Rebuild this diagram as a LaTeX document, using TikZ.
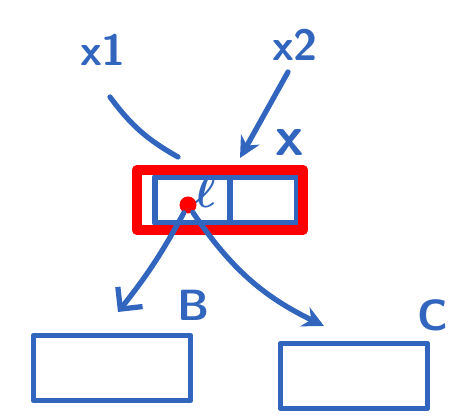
\documentclass[tikz,border=0pt]{standalone}
\usepackage{tikz}
\usepackage{graphicx}
\usepackage{bm}
\usetikzlibrary{arrows.meta, positioning}
\definecolor{pen}{RGB}{50,102,190}
\definecolor{marker}{RGB}{255,0,0}

\begin{document}
\begin{tikzpicture}[
    x=0.02cm, y=-0.02cm,
    box/.style={rectangle, draw=pen, line width=3pt, minimum width=3.1cm, minimum height=1.3cm},
    redbox/.style={rectangle, draw=marker, line width=6pt, minimum width=3.32cm, minimum height=1.2cm},
    lbl/.style={text=pen, font=\Huge\sffamily\bfseries},
    arrow/.style={-{Stealth[length=12pt, width=12pt]}, draw=pen, line width=3pt},
    line cap=round, line join=round
]
\useasboundingbox (0,0) rectangle (463,418);

% Record with its cells
\node[box, minimum width=2.84cm, minimum height=0.92cm] (cells) at (226,200) {};
\draw[pen, line width=3pt] (cells.north) ++(4,0) coordinate (sep) -- (sep |- cells.south);
\node[text=pen] (ell) at (205,192) {\scalebox{2.6}{$\bm{\ell}$}};
\node[redbox] (rec) at (220,200) {};
\node[circle, fill=marker, minimum size=0.34cm, inner sep=0pt] (dot) at (188,205) {};

% Labels
\node[lbl] (xa) at (103,50) {x1};
\node[lbl] (xb) at (295,45) {x2};
\node[lbl, scale=1.3] (xr) at (290,142) {x};

% Target boxes
\node[box, minimum width=3.15cm] (B) at (112,368) {};
\node[box, minimum width=2.95cm] (C) at (354,376) {};
\node[lbl] (lb) at (194,305) {B};
\node[lbl] (lc) at (433,315) {C};

% Connectors
\coordinate (xaend) at (110,97);
\coordinate (xbend) at (288,72);
\coordinate (atrec) at (178,157);
\coordinate (atcell) at (240,158);
\coordinate (bin) at (118,312);
\coordinate (cin) at (324,326);
\draw[pen, line width=3pt] (xaend) to[bend right=12] (atrec);
\draw[arrow] (xbend) -- (atcell);
\draw[arrow, -{Straight Barb[length=9pt, width=18pt]}] (dot) to[bend left=5] (bin);
\draw[arrow] (dot) to[bend right=15] (cin);

\end{tikzpicture}
\end{document}
